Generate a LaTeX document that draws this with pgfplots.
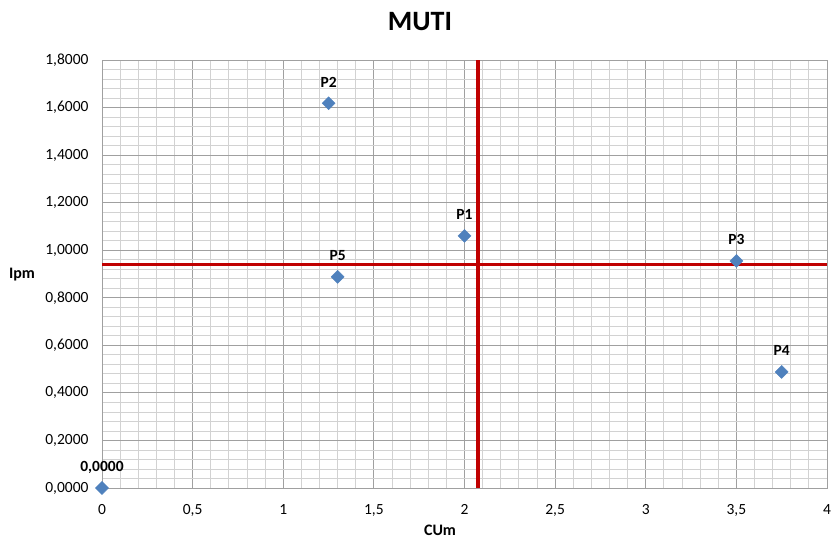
\documentclass[border=0pt]{standalone}
\usepackage{pgfplots}
\pgfplotsset{compat=1.18}
\usepackage{fontspec}
\setmainfont{Carlito}
\definecolor{ptblue}{RGB}{79,129,189}
\definecolor{xlred}{RGB}{192,0,0}
\definecolor{majgrid}{RGB}{160,160,160}
\definecolor{mingrid}{RGB}{210,210,210}
\pgfplotstableread{
x y label
0 0 0,0000
2 1.06 P1
1.25 1.618 P2
3.5 0.955 P3
3.75 0.488 P4
1.3 0.888 P5
}\pts
\begin{document}
\begin{tikzpicture}
\path[use as bounding box] (-102pt,-52pt) rectangle (729pt,488pt);
\begin{axis}[
  at={(0pt,0pt)}, anchor=south west,
  scale only axis, width=725pt, height=428pt,
  xmin=0, xmax=4, ymin=0, ymax=1.8,
  xtick={0,0.5,...,4}, ytick={0,0.2,...,1.8},
  minor x tick num=4, minor y tick num=4,
  grid=both,
  major grid style={majgrid, line width=0.8pt},
  minor grid style={mingrid, line width=0.8pt},
  axis line style={majgrid, line width=0.8pt},
  tick align=outside,
  major tick length=0pt, minor tick length=0pt,
  /pgf/number format/assume math mode=true,
  yticklabel style={font=\fontsize{15.5}{18}\selectfont, xshift=-10pt,
    /pgf/number format/fixed, /pgf/number format/fixed zerofill, /pgf/number format/precision=4,
    /pgf/number format/use comma, /pgf/number format/1000 sep={}},
  xticklabel style={font=\fontsize{15.5}{18}\selectfont, yshift=-13pt,
    /pgf/number format/fixed, /pgf/number format/precision=1,
    /pgf/number format/use comma, /pgf/number format/1000 sep={}},
  clip=false,
]
\addplot[only marks, mark=square*, mark size=4.6pt, mark options={rotate=45, fill=ptblue, draw=ptblue},
  point meta=explicit symbolic, nodes near coords,
  every node near coord/.append style={font=\bfseries\fontsize{15.5}{18}\selectfont, anchor=base, inner sep=0pt, yshift=16pt, text=black}]
  table[x=x, y=y, meta=label] {\pts};
\addplot[xlred, line width=3.6pt, no marks] coordinates {(0,0.94) (4,0.94)};
\addplot[xlred, line width=3.6pt, no marks] coordinates {(2.075,0) (2.075,1.8)};
\end{axis}
\node[font=\bfseries\fontsize{28}{32}\selectfont] at (318pt,466pt) {MUTI};
\node[font=\bfseries\fontsize{16}{19}\selectfont] at (-80pt,213pt) {Ipm};
\node[font=\bfseries\fontsize{16}{19}\selectfont] at (338pt,-42pt) {CUm};
\end{tikzpicture}
\end{document}
